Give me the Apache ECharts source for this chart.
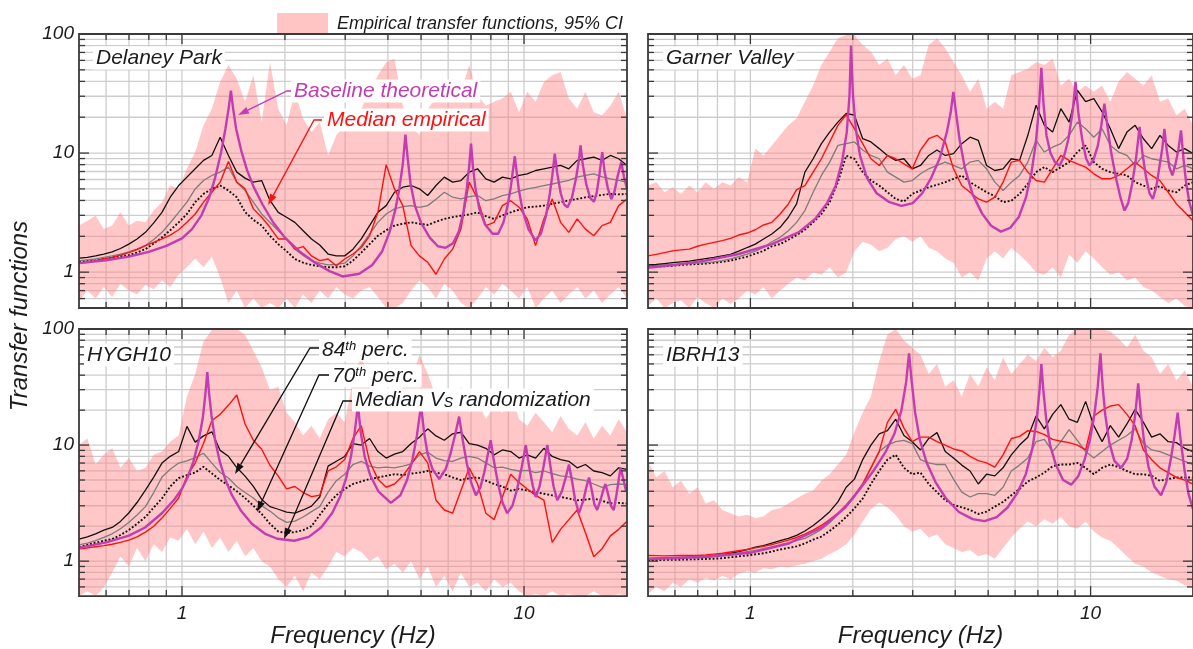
<!DOCTYPE html>
<html>
<head>
<meta charset="utf-8">
<title>Transfer functions</title>
<script src="https://cdn.jsdelivr.net/npm/echarts@6.0.0/dist/echarts.min.js"></script>
<style>
html, body { margin: 0; padding: 0; background: #fff; }
#chart { width: 1193px; height: 649px; }
</style>
</head>
<body>
<div id="chart"></div>
<script>
// Frequency grid (Hz) shared by the empirical curves and the 95% CI band
const freq = [0.5,0.529,0.559,0.591,0.625,0.661,0.699,0.739,0.782,0.827,
  0.874,0.924,0.978,1.034,1.093,1.156,1.223,1.293,1.367,1.446,
  1.529,1.617,1.71,1.808,1.912,2.022,2.138,2.261,2.391,2.528,
  2.674,2.827,2.99,3.162,3.344,3.536,3.739,3.954,4.181,4.422,
  4.676,4.945,5.229,5.529,5.847,6.183,6.539,6.914,7.312,7.732,
  8.176,8.646,9.143,9.669,10.22,10.81,11.43,12.09,12.79,13.52,
  14.3,15.12,15.99,16.91,17.88,18.91,20];

// ---- Delaney Park ----
const dpCiUpper = [2.46,2.7,2.98,2.30,2.46,3.18,2.46,2.7,2.62,3.29,
  3.87,5.34,5.01,7.38,10.2,17.1,23.6,39.6,54.8,42,
  27,45,18.2,58,23.6,17.1,32.7,19.5,15,18.2,
  9.55,14.1,17.1,17.1,23.6,32.7,45,58,62,25,
  17.1,14.1,23.6,28.7,32.7,42,32.7,54.8,30.6,25,
  27,28.7,32.7,22,32.7,27,39.6,45,48,28.7,
  23.6,32.7,22,20.8,25,32.7,19.5];
const dpCiLower = [0.57,0.7,0.6,0.75,0.62,0.8,0.7,0.65,0.78,0.72,
  0.85,0.75,0.95,1.1,1.3,1.1,1.35,0.9,0.55,0.7,
  0.5,0.6,0.5,0.55,0.5,0.6,0.5,0.65,0.55,0.7,
  0.6,0.75,0.65,0.6,0.7,0.75,0.62,0.5,0.5,0.55,
  0.7,0.85,0.75,0.6,0.8,0.7,0.55,0.5,0.6,0.75,
  0.65,0.8,0.7,0.6,0.75,0.5,0.6,0.7,0.55,0.65,
  0.75,0.6,0.7,0.55,0.65,0.75,0.6];
const dp84 = [1.31,1.33,1.37,1.42,1.48,1.58,1.72,1.90,2.16,2.59,
  3.18,4.26,5.34,6.28,7.38,8.68,9.55,13.6,9.55,6.92,
  6.16,5.70,5.88,4.0,3.18,2.89,2.62,2.23,1.90,1.69,
  1.42,1.37,1.37,1.56,1.90,2.46,3.18,3.62,4.69,5.17,
  5.34,5.01,4.40,5.34,6.28,5.70,5.88,6.92,7.38,6.08,
  5.70,6.28,6.08,6.49,6.70,7.14,7.38,7.62,7.87,7.38,
  8.68,8.96,9.26,8.68,9.55,8.96,7.87];
const dp70 = [1.25,1.27,1.29,1.33,1.37,1.42,1.48,1.56,1.67,1.88,
  2.16,2.6,3.18,3.87,5.0,5.88,6.49,6.92,7.62,5.70,
  4.85,3.87,3.08,2.62,2.23,1.90,1.56,1.38,1.25,1.19,
  1.15,1.16,1.19,1.37,1.67,2.09,2.62,3.08,3.40,3.55,
  3.62,3.5,3.62,4.1,4.69,4.26,4.12,4.3,4.40,3.98,
  4.12,4.4,4.54,4.8,5.01,5.15,5.34,5.5,5.70,5.9,
  6.28,6.5,6.70,6.3,6.08,5.9,5.70];
const dpMedVs = [1.22,1.24,1.26,1.29,1.33,1.36,1.39,1.46,1.56,1.74,
  1.96,2.25,2.62,3.08,3.87,4.54,5.0,5.34,4.85,4.26,
  3.2,2.75,2.46,2.02,1.72,1.5,1.29,1.2,1.15,1.12,
  1.10,1.1,1.12,1.25,1.46,1.72,2.02,2.25,2.46,2.55,
  2.62,2.55,2.49,2.65,2.80,2.9,2.98,3.05,3.18,2.95,
  2.80,3.0,3.18,3.35,3.51,3.55,3.62,3.75,3.87,4.0,
  4.12,4.25,4.35,4.45,4.54,4.5,4.54];
const dpMedEmp = [1.19,1.21,1.25,1.29,1.33,1.39,1.46,1.55,1.67,1.78,
  1.90,2.05,2.27,2.62,3.08,3.87,4.69,5.70,8.5,5.70,
  5.01,3.40,2.89,2.38,1.90,1.90,1.56,1.64,1.37,1.25,
  1.29,1.13,1.29,1.42,1.61,2.02,3.18,8.0,5.0,3.62,
  1.67,1.37,1.21,0.96,1.29,1.56,2.30,5.70,4.12,2.46,
  2.62,3.62,3.98,3.51,2.80,1.67,2.80,4.12,2.62,2.16,
  2.80,2.30,2.02,2.46,2.62,3.62,4.12];
const dpTheory = [[0.5,1.19],[0.6,1.26],[0.7,1.35],[0.8,1.48],[0.9,1.66],[1.0,1.92],[1.07,2.3],[1.14,3.0],
  [1.2,4.2],[1.25,6.2],[1.3,10],[1.34,16],[1.37,24],[1.39,33.5],[1.41,24],[1.44,16],[1.49,10.5],
  [1.55,7.2],[1.62,5.2],[1.72,3.7],[1.85,2.6],[2.0,1.95],[2.2,1.5],[2.45,1.2],[2.7,1.02],[2.95,0.92],
  [3.3,0.97],[3.6,1.15],[3.85,1.5],[4.05,2.2],[4.2,3.3],[4.32,5],[4.42,8],[4.5,14.3],[4.57,9],
  [4.66,5.5],[4.8,3.6],[5.0,2.6],[5.3,1.95],[5.6,1.65],[5.9,1.6],[6.2,1.75],[6.45,2.2],[6.65,3.2],
  [6.8,5],[6.92,8],[7.0,12],[7.08,8],[7.2,5.2],[7.4,3.4],[7.7,2.5],[8.1,2.1],[8.4,2.1],[8.7,2.6],
  [8.95,3.6],[9.15,5.2],[9.3,7.5],[9.4,9.4],[9.5,7.2],[9.65,5],[9.9,3.3],[10.3,2.3],[10.8,1.85],
  [11.2,2.1],[11.6,3.0],[11.9,4.6],[12.1,6.5],[12.3,9.9],[12.5,6.8],[12.8,4.6],[13.1,3.7],[13.4,3.5],
  [13.8,4.2],[14.2,6.2],[14.45,8.5],[14.63,11.6],[14.85,8],[15.2,5.5],[15.6,4.2],[16.0,3.9],[16.3,4.6],
  [16.6,6.5],[16.93,10.2],[17.2,7],[17.6,5],[18.0,4.1],[18.4,4.8],[18.8,6.5],[19.25,8.4],[19.6,6.3],[20,5.0]];

// ---- Garner Valley ----
const gvCiUpper = [5.34,5.7,4.69,5.17,4.54,5.34,4.69,5.7,5.01,5.7,
  5.34,6.28,5.7,10.9,9.55,11.6,14.1,17.1,19.5,27,
  37,54.8,71,92,98,98,81,71,54.8,62,
  45,55,42,45,81,92,76,58,45,32.7,
  42,23.6,27,23.6,45,48,51,58,54.8,62,
  37,42,32.7,37,32.7,37,27,40,48,42,
  37,45,27,28.7,20.8,23.6,17.1];
const gvCiLower = [0.52,0.6,0.5,0.55,0.58,0.5,0.62,0.55,0.5,0.6,
  0.54,0.6,0.7,0.65,0.75,0.6,0.7,0.8,0.9,0.85,
  1.0,0.95,1.1,0.9,1.0,1.5,1.8,1.7,1.5,1.6,
  1.9,2.0,1.8,2.0,1.6,1.5,1.3,1.2,0.9,1.0,
  0.85,1.3,1.5,1.3,1.6,1.4,1.2,1.0,0.95,1.1,
  0.9,1.4,1.2,1.5,1.3,1.1,0.95,1.0,0.85,0.9,
  0.75,0.7,0.62,0.55,0.6,0.52,0.5];
const gv84 = [1.15,1.16,1.18,1.20,1.22,1.24,1.27,1.30,1.33,1.37,
  1.41,1.50,1.61,1.72,1.90,2.09,2.38,2.89,3.74,6.92,
  8.96,12.0,15,18.2,21.5,20.8,13.2,12.4,10.9,9.55,
  8.68,8.96,7.38,7.87,9.55,10.6,9.55,9.9,12.0,13.6,
  12.8,7.87,7.14,7.38,8.96,8.68,14.1,25.2,17.1,15,
  23.6,18.2,33.7,27,28.7,22.2,16,10.9,15,17.1,
  13.2,10.9,14.1,11.6,10.2,10.9,9.9];
const gv70 = [1.13,1.14,1.15,1.16,1.17,1.18,1.19,1.20,1.22,1.25,
  1.29,1.35,1.42,1.5,1.61,1.80,1.96,2.23,2.62,3.29,
  4.69,6.49,8.4,11.6,12.0,12.4,10.6,9.55,8.96,6.92,
  6.28,5.70,5.88,6.7,7.38,7.87,8.4,7.87,7.38,8.4,
  8.68,7.38,5.70,4.85,5.70,6.49,8.4,12.8,10.2,11.2,
  12.0,14.1,18.2,16,13.6,16,11.6,10.2,9.55,7.87,
  9.55,8.96,8.68,8.4,7.38,7.87,7.38];
const gvMedVs = [1.11,1.115,1.12,1.13,1.15,1.16,1.17,1.18,1.20,1.22,
  1.25,1.30,1.35,1.43,1.51,1.65,1.72,1.87,2.05,2.27,
  2.62,3.08,3.87,5.70,9.5,8.96,6.92,5.88,5.34,4.69,
  4.12,3.92,4.54,4.85,5.17,5.41,5.70,6.08,6.49,5.70,
  5.17,4.69,4.35,3.87,3.98,4.54,5.52,6.92,7.62,6.92,
  7.62,8.4,10.2,11.6,8.4,7.38,6.92,6.7,6.49,5.70,
  5.34,5.01,5.27,4.85,4.69,5.34,5.70];
const gvMedEmp = [1.37,1.41,1.46,1.51,1.54,1.56,1.65,1.72,1.78,1.84,
  1.92,2.05,2.13,2.27,2.49,2.62,3.08,3.74,4.94,5.34,
  6.92,8.96,12.4,17.1,21.0,16,12.0,8.96,7.87,9.55,
  8.96,8.12,7.38,10.6,13.2,14.1,12.4,7.38,5.34,4.69,
  4.12,3.87,4.26,5.70,8.4,8.68,6.92,5.88,5.70,7.38,
  9.55,8.68,8.12,7.62,6.70,6.08,6.08,6.49,7.38,8.4,
  7.38,6.49,5.88,4.69,3.74,3.18,2.7];
const gvTheory = [[0.5,1.09],[0.6,1.15],[0.738,1.25],[0.924,1.42],[1.157,1.72],[1.385,2.16],[1.55,2.8],
  [1.68,3.8],[1.78,5.3],[1.86,8.5],[1.92,15],[1.955,30],[1.976,80],[2.0,32],[2.04,16],[2.1,9.5],
  [2.2,6.2],[2.35,4.6],[2.55,3.9],[2.78,3.6],[3.0,3.8],[3.2,4.6],[3.4,6.2],[3.6,9],[3.78,15],[3.88,22],
  [3.95,32.7],[4.02,22],[4.12,13],[4.27,7.5],[4.5,4.5],[4.8,3.1],[5.1,2.45],[5.45,2.19],[5.8,2.35],
  [6.15,2.9],[6.45,4.2],[6.7,6.8],[6.9,12],[7.05,24],[7.166,52],[7.27,26],[7.42,14],[7.62,10],[7.85,8.4],
  [8.11,7.87],[8.35,9.3],[8.6,13],[8.85,22],[9.03,39.6],[9.2,22],[9.45,13],[9.7,9],[9.93,7.87],[10.2,8.8],
  [10.5,11.5],[10.75,17],[10.98,26],[11.2,17],[11.5,10],[11.9,6],[12.25,4.2],[12.58,3.29],[12.9,3.8],
  [13.25,5.5],[13.6,9],[13.93,16.6],[14.2,10],[14.55,6.3],[14.9,4.6],[15.24,4.12],[15.6,5.2],[15.95,7.8],
  [16.25,11],[16.48,16],[16.75,10.5],[17.05,7.6],[17.4,6.49],[17.75,8],[18.1,10.5],[18.44,15.5],[18.75,9],
  [19.1,5.6],[19.5,3.9],[20,3.0]];

// ---- HYGH10 ----
const hyCiUpper = [10,11.4,6.8,8.24,9.38,6.37,7.73,5.98,6.37,8.24,
  8.79,10.7,12.1,26.2,41,78,98,100,100,100,
  89,65,46.8,29.8,31.8,19.0,15.7,12.1,14.7,11.4,
  16.7,19.0,15.7,36.2,60,31.8,24.6,26.2,21.7,31.8,
  36.2,60,41,26.2,29.8,21.7,31.8,19,24.6,16.7,
  21.7,19,29.8,16.7,14.7,19,15.7,12.9,17.8,13.8,
  12.1,15.7,11.4,14.7,12.1,16.7,12.9];
const hyCiLower = [0.5,0.55,0.5,0.6,0.8,1.1,0.9,1.3,1.0,1.4,
  1.2,1.6,1.5,1.9,1.4,1.8,1.3,1.6,1.2,1.5,
  1.1,1.3,1.0,0.9,0.7,0.6,0.75,0.55,0.8,0.7,
  0.9,1.2,1.1,1.3,1.2,1.0,1.1,0.85,0.95,0.8,
  1.0,0.7,0.9,0.6,0.75,0.55,0.8,0.6,0.65,0.55,
  0.7,0.6,0.65,0.55,0.5,0.52,0.5,0.55,0.5,0.52,
  0.5,0.5,0.55,0.5,0.5,0.52,0.5];
const hy84 = [1.55,1.62,1.72,1.85,1.95,2.2,2.6,3.2,4.1,5.3,
  7.0,8.0,8.8,14.5,10.6,12.0,13.0,9.0,8.0,6.4,
  5.4,4.4,3.4,2.95,2.8,2.64,2.59,2.76,2.98,3.57,
  6.58,7.25,7.98,10.3,10.0,11.4,8.79,7.73,8.35,8.79,
  10.3,11.7,13.8,12.0,11.0,12.5,12.9,10.3,10.0,9.38,
  8.24,9.08,8.79,7.73,8.24,7.73,9.38,7.98,7.49,7.25,
  6.37,6.80,5.98,5.79,5.43,6.37,6.17];
const hy70 = [1.38,1.43,1.5,1.6,1.72,1.9,2.15,2.5,2.95,3.9,
  5.3,6.2,7.0,7.3,7.8,8.5,7.0,5.8,5.2,4.4,
  3.9,3.5,3.0,2.7,2.36,2.16,2.21,2.40,2.67,2.95,
  3.93,4.93,5.61,6.80,7.25,6.58,6.37,6.45,6.37,6.58,
  6.89,8.24,8.68,7.73,7.36,7.25,7.73,7.98,7.73,7.02,
  6.37,6.45,6.17,5.98,6.06,5.79,5.98,5.68,5.43,5.33,
  5.09,4.93,4.62,4.33,4.56,4.62,4.56];
const hyMedVs = [1.32,1.38,1.44,1.5,1.55,1.68,1.85,2.1,2.4,2.9,
  3.47,4.4,5.2,5.5,5.8,6.5,5.7,5.0,4.5,4.0,
  3.5,3.0,2.55,2.1,1.8,1.75,1.78,1.85,2.0,2.5,
  3.1,3.7,4.19,4.62,4.86,5.09,5.26,5.43,5.61,5.53,
  5.68,5.79,5.98,5.79,5.61,5.26,5.0,5.18,5.26,4.93,
  4.62,4.39,4.06,4.19,4.06,3.93,3.81,3.69,3.57,3.46,
  3.35,3.39,3.46,3.31,3.14,3.18,3.14];
const hyMedEmp = [1.28,1.3,1.33,1.36,1.4,1.45,1.52,1.62,1.78,2.0,
  2.35,2.85,3.5,5.4,7.0,10.3,16.3,18.4,22,27,
  15.2,11,9.2,6.7,5.4,4.2,4.4,3.9,3.6,3.7,
  6.0,6.5,7.5,11.4,14.7,7.25,5.09,4.33,4.62,5.43,
  6.80,8.79,7.02,3.35,2.76,2.59,4.06,6.37,4.62,2.59,
  2.28,3.57,5.61,4.77,4.19,3.69,3.35,1.45,1.88,2.28,
  2.76,1.76,1.09,1.28,1.65,1.88,2.21];
const hyTheory = [[0.5,1.3],[0.6,1.45],[0.7,1.66],[0.78,1.95],[0.875,2.6],[0.95,3.4],[1.0,4.2],[1.04,5.3],
  [1.08,7.2],[1.12,11],[1.15,17],[1.17,27],[1.186,42.5],[1.2,28],[1.22,18],[1.25,11],[1.29,7.2],[1.34,5.0],
  [1.4,3.7],[1.49,2.7],[1.6,2.1],[1.75,1.72],[1.9,1.56],[2.13,1.5],[2.35,1.62],[2.55,1.95],[2.75,2.6],
  [2.9,3.6],[3.02,5.2],[3.12,8],[3.2,13],[3.27,22],[3.33,13],[3.42,8],[3.55,5.5],[3.75,4.0],[4.08,3.18],
  [4.35,3.7],[4.55,5.0],[4.72,7.5],[4.86,12],[5.0,22],[5.1,13],[5.22,8.5],[5.4,6.2],[5.65,5.1],[5.9,6.2],
  [6.1,8.5],[6.3,12.5],[6.46,17.6],[6.62,11],[6.8,7],[7.0,4.8],[7.23,3.69],[7.45,4.3],[7.65,5.8],[7.82,8],
  [7.99,11.0],[8.15,7.5],[8.4,4.6],[8.65,3.2],[8.93,2.59],[9.25,3.0],[9.55,4.2],[9.85,6.5],[10.12,10],
  [10.35,6.5],[10.6,4.5],[10.82,3.57],[11.1,4.4],[11.4,6.5],[11.7,10],[11.95,6.5],[12.2,4.4],[12.51,3.35],
  [12.9,4.0],[13.25,5.3],[13.53,6.8],[13.8,5],[14.1,3.4],[14.47,2.59],[14.9,3.3],[15.2,4.3],[15.49,5.26],
  [15.8,4],[16.05,3.1],[16.36,2.76],[16.8,3.5],[17.05,4.1],[17.3,4.62],[17.6,3.8],[17.95,3.0],[18.3,2.76],
  [18.65,3.8],[18.95,5.2],[19.15,6.37],[19.45,5.3],[19.85,4.06],[20,4.3]];

// ---- IBRH13 ----
const ibCiUpper = [7.25,5.26,5.98,4.33,4.93,3.81,4.33,3.14,3.35,2.76,
  2.59,2.43,2.51,2.35,2.43,2.76,2.85,3.14,3.46,3.81,
  4.06,4.93,5.61,6.80,8.24,12.9,19.0,26.2,53,89,
  100,80,69,60,41,50,31.8,36.2,26.2,41,
  31.8,46.8,36.2,57,41,50,60,53,69,57,
  65,89,100,100,100,100,95,83,69,89,
  65,57,41,50,36.2,43.8,31.8];
const ibCiLower = [0.52,0.6,0.55,0.65,0.6,0.7,0.65,0.72,0.68,0.75,
  0.7,0.78,0.82,0.8,0.87,0.85,0.9,0.88,0.92,0.95,
  1.0,1.05,1.15,1.25,1.4,1.7,2.2,2.8,3.2,2.9,
  2.5,2.0,1.8,1.9,1.6,1.7,1.4,1.3,1.2,1.25,
  1.1,1.15,1.05,1.3,1.6,1.9,2.2,2.0,2.3,2.1,
  2.4,2.0,1.9,2.2,1.8,1.6,1.5,1.3,1.1,0.95,
  0.9,0.8,0.75,0.7,0.68,0.62,0.6];
const ib84 = [1.05,1.055,1.06,1.065,1.07,1.08,1.09,1.10,1.12,1.14,
  1.17,1.21,1.26,1.32,1.36,1.43,1.50,1.57,1.67,1.82,
  2.03,2.31,2.67,3.24,4.33,5.09,7.49,10.0,12.5,13.3,
  16.7,12.1,10.7,9.08,11.4,12.8,8.79,7.73,6.72,5.98,
  4.62,5.61,5.43,6.37,8.24,10.0,11.7,17.8,13.8,18.4,
  22.3,16.7,15.7,23.8,14.7,10.7,14.7,11.7,15.2,20.3,
  15.7,11.7,12.5,10.7,10.5,9.38,8.79];
const ib70 = [1.04,1.042,1.045,1.047,1.05,1.06,1.07,1.08,1.09,1.11,
  1.13,1.17,1.21,1.24,1.28,1.33,1.38,1.44,1.50,1.57,
  1.71,1.88,2.14,2.55,2.95,3.57,4.62,6.37,8.79,10.0,
  10.7,11.0,10.3,7.49,7.02,6.80,6.80,5.09,3.93,3.57,
  3.81,3.81,3.69,4.33,5.98,6.72,7.73,10.7,11.2,8.79,
  10.7,13.6,11.0,8.79,7.73,8.79,10.0,11.0,12.1,13.8,
  10.3,9.08,8.79,8.24,7.73,7.25,6.80];
const ibMedVs = [1.02,1.022,1.025,1.027,1.03,1.035,1.04,1.045,1.05,1.06,
  1.08,1.10,1.12,1.145,1.17,1.21,1.26,1.30,1.34,1.42,
  1.53,1.63,1.82,2.07,2.40,2.85,3.46,4.62,5.98,7.49,
  8.24,6.37,5.61,5.79,4.62,3.93,3.35,3.05,2.91,2.76,
  2.55,2.67,2.95,3.24,3.69,4.19,4.86,5.26,5.79,6.58,
  6.80,6.80,7.02,6.37,5.61,6.37,6.80,6.45,5.98,5.61,
  5.61,5.43,4.93,5.09,5.26,5.26,5.26];
const ibMedEmp = [1.12,1.115,1.11,1.115,1.12,1.12,1.12,1.13,1.15,1.17,
  1.20,1.23,1.26,1.30,1.34,1.39,1.45,1.52,1.60,1.71,
  1.85,2.03,2.28,2.59,3.05,3.69,4.62,6.37,8.79,15.7,
  20.3,14.0,10.7,11.7,11.7,10.7,10.0,9.26,8.9,7.98,
  7.34,7.02,6.45,8.24,11.4,11.9,13.3,13.1,12.3,11.2,
  10.8,10.5,10.0,9.08,17.8,20.0,21.7,22.3,18.4,14.7,
  9.08,7.49,6.37,5.79,5.26,4.99,4.62];
const ibTheory = [[0.5,1.05],[0.738,1.09],[1.0,1.18],[1.295,1.42],[1.622,1.95],[1.9,2.9],[2.1,4.2],[2.3,6.0],
  [2.5,8.8],[2.65,12.5],[2.78,20],[2.87,35],[2.926,61.6],[2.98,35],[3.05,19],[3.15,11],[3.3,7],[3.5,4.8],
  [3.75,3.5],[4.1,2.65],[4.5,2.3],[4.88,2.21],[5.3,2.4],[5.7,2.9],[6.1,3.9],[6.45,5.6],[6.75,9.5],[6.95,17],
  [7.08,30],[7.166,49.9],[7.26,30],[7.4,17],[7.6,10],[7.9,6.8],[8.3,5.0],[8.77,4.56],[9.2,5.4],[9.6,7.5],
  [9.95,11],[10.25,18],[10.5,32],[10.69,61.6],[10.85,32],[11.05,18],[11.35,10.5],[11.75,7.3],[12.3,6.37],
  [12.8,7.6],[13.2,11],[13.55,19],[13.8,34],[14.05,19],[14.35,11],[14.8,6.5],[15.4,4.4],[16.11,3.69],
  [16.7,4.8],[17.2,7.5],[17.65,12],[18.03,19.0],[18.4,11],[18.9,6],[19.4,3.8],[20,2.8]];

// Axis ranges and tick positions (shared by every panel)
const X_RANGE = [0.5, 20];
const Y_RANGE = [0.5, 100];
const xMinorTicks = [0.6, 0.7, 0.8, 0.9, 2, 3, 4, 5, 6, 7, 8, 9];
const xMajorTicks = [1, 10];
const yMinorTicks = [0.6, 0.7, 0.8, 0.9, 2, 3, 4, 5, 6, 7, 8, 9, 20, 30, 40, 50, 60, 70, 80, 90];
const yMajorTicks = [1, 10];

const panels = [
  { title: 'Delaney Park', up: dpCiUpper, lo: dpCiLower, p84: dp84, p70: dp70, medVs: dpMedVs, emp: dpMedEmp, theory: dpTheory },
  { title: 'Garner Valley', up: gvCiUpper, lo: gvCiLower, p84: gv84, p70: gv70, medVs: gvMedVs, emp: gvMedEmp, theory: gvTheory },
  { title: 'HYGH10', up: hyCiUpper, lo: hyCiLower, p84: hy84, p70: hy70, medVs: hyMedVs, emp: hyMedEmp, theory: hyTheory },
  { title: 'IBRH13', up: ibCiUpper, lo: ibCiLower, p84: ib84, p70: ib70, medVs: ibMedVs, emp: ibMedEmp, theory: ibTheory }
];

const FONT = '"Liberation Sans", Arial, Helvetica, sans-serif';
const TEXT = '#1c1c1c';
const GRID = '#cdcdcd';
const FRAME = '#3a3a3a';
const BAND = 'rgba(255, 130, 130, 0.45)';
const BAND_SOLID = '#ffc4c4';
const MAGENTA = '#c23cb2';
const RED = '#ff1010';
const GRAY = '#7c7c7c';
const BLACK = '#111111';
const CI_NAME = 'Empirical transfer functions, 95% CI';

const gridBoxes = [
  { left: 79, top: 34, width: 548, height: 274 },
  { left: 648, top: 34, width: 546, height: 274 },
  { left: 79, top: 329, width: 548, height: 275 },
  { left: 648, top: 329, width: 546, height: 275 }
];

const isDecade = v => { const l = Math.log10(v); return v >= 1 && Math.abs(l - Math.round(l)) < 1e-6; };
const decadeLabel = v => isDecade(v) ? String(Math.round(v)) : '';

// light grid lines at every minor and major tick
function renderGridLines(params, api) {
  const lo = api.coord([X_RANGE[0], Y_RANGE[0]]);
  const hi = api.coord([X_RANGE[1], Y_RANGE[1]]);
  const children = [];
  xMinorTicks.concat(xMajorTicks).forEach(v => {
    const x = api.coord([v, Y_RANGE[0]])[0];
    children.push({ type: 'line', shape: { x1: x, y1: lo[1], x2: x, y2: hi[1] }, style: { stroke: GRID, lineWidth: 1.3 } });
  });
  yMinorTicks.concat(yMajorTicks).forEach(v => {
    const y = api.coord([X_RANGE[0], v])[1];
    children.push({ type: 'line', shape: { x1: lo[0], y1: y, x2: hi[0], y2: y }, style: { stroke: GRID, lineWidth: 1.3 } });
  });
  return { type: 'group', children };
}

// box frame with inward ticks on all four sides
function renderFrame(params, api) {
  const lo = api.coord([X_RANGE[0], Y_RANGE[0]]);
  const hi = api.coord([X_RANGE[1], Y_RANGE[1]]);
  const L = lo[0], B = lo[1], R = hi[0], T = hi[1];
  const children = [];
  const seg = (x1, y1, x2, y2) => children.push({ type: 'line', shape: { x1, y1, x2, y2 }, style: { stroke: FRAME, lineWidth: 1.3 } });
  const xTick = (v, len) => { const x = api.coord([v, Y_RANGE[0]])[0]; seg(x, B, x, B - len); seg(x, T, x, T + len); };
  const yTick = (v, len) => { const y = api.coord([X_RANGE[0], v])[1]; seg(L, y, L + len, y); seg(R, y, R - len, y); };
  xMinorTicks.forEach(v => xTick(v, 6));
  xMajorTicks.forEach(v => xTick(v, 10));
  yMinorTicks.forEach(v => yTick(v, 6));
  yMajorTicks.forEach(v => yTick(v, 10));
  children.push({ type: 'rect', shape: { x: L, y: T, width: R - L, height: B - T }, style: { fill: 'transparent', stroke: FRAME, lineWidth: 1.8 } });
  return { type: 'group', children };
}

// 95% CI band: polygon along the upper bound and back along the lower bound
const makeBandRenderer = (up, lo) => (params, api) => {
  const pts = [];
  for (let i = 0; i < freq.length; i++) pts.push(api.coord([freq[i], up[i]]));
  for (let i = freq.length - 1; i >= 0; i--) pts.push(api.coord([freq[i], lo[i]]));
  return { type: 'polygon', shape: { points: pts }, style: { fill: BAND } };
};

const pairs = arr => freq.map((f, i) => [f, arr[i]]);

const xAxes = gridBoxes.map((g, i) => ({
  type: 'log', logBase: 10, gridIndex: i, min: X_RANGE[0], max: X_RANGE[1],
  axisLine: { show: false }, axisTick: { show: false }, splitLine: { show: false },
  axisLabel: { show: i >= 2, formatter: decadeLabel, margin: 8, color: TEXT, fontSize: 19, fontStyle: 'italic', fontFamily: FONT, showMinLabel: false, showMaxLabel: false },
  name: i >= 2 ? 'Frequency (Hz)' : '', nameLocation: 'middle', nameGap: 16,
  nameTextStyle: { color: TEXT, fontSize: 24, fontStyle: 'italic', fontFamily: FONT }
}));
const yAxes = gridBoxes.map((g, i) => ({
  type: 'log', logBase: 10, gridIndex: i, min: Y_RANGE[0], max: Y_RANGE[1],
  axisLine: { show: false }, axisTick: { show: false }, splitLine: { show: false },
  axisLabel: { show: i % 2 === 0, formatter: decadeLabel, margin: 5, color: TEXT, fontSize: 19, fontStyle: 'italic', fontFamily: FONT, showMinLabel: false }
}));

const series = [];
panels.forEach((p, i) => {
  const ax = { xAxisIndex: i, yAxisIndex: i, silent: true };
  series.push(Object.assign({ type: 'custom', z: 1, data: [[1, 1]], renderItem: renderGridLines }, ax));
  series.push(Object.assign({ type: 'custom', name: CI_NAME, z: 2, data: [[1, 1]], itemStyle: { color: BAND_SOLID }, renderItem: makeBandRenderer(p.up, p.lo) }, ax));
  const line = (data, color, width, type, z) => Object.assign({
    type: 'line', data, z, symbol: 'none', showSymbol: false, clip: true,
    lineStyle: { color, width, type }
  }, ax);
  series.push(line(pairs(p.medVs), BLACK, 1.9, [1.9, 1.9], 3));
  series.push(line(pairs(p.p70), GRAY, 1.3, 'solid', 4));
  series.push(line(pairs(p.p84), BLACK, 1.3, 'solid', 5));
  series.push(line(pairs(p.emp), RED, 1.4, 'solid', 6));
  series.push(line(p.theory, MAGENTA, 2.4, 'solid', 7));
  series.push(Object.assign({ type: 'custom', z: 20, data: [[1, 1]], renderItem: renderFrame }, ax));
});

// annotation helpers (screen placement of labels and pointer arrows)
function arrow(points, color) {
  const n = points.length;
  const [x2, y2] = points[n - 1];
  const [x1, y1] = points[n - 2];
  const a = Math.atan2(y2 - y1, x2 - x1);
  const len = 11, half = 3.6;
  const bx = x2 - len * Math.cos(a), by = y2 - len * Math.sin(a);
  const head = [[x2, y2], [bx + half * Math.sin(a), by - half * Math.cos(a)], [bx - half * Math.sin(a), by + half * Math.cos(a)]];
  const shaft = points.slice(0, n - 1).concat([[bx, by]]);
  return [
    { type: 'polyline', z: 100, shape: { points: shaft }, style: { stroke: color, lineWidth: 1.3, fill: null } },
    { type: 'polygon', z: 100, shape: { points: head }, style: { fill: color } }
  ];
}
function label(text, x, y, color, rich, size) {
  return {
    type: 'text', z: 101, x, y,
    style: {
      text, fill: color, fontSize: size || 21, fontStyle: 'italic', fontFamily: FONT,
      verticalAlign: 'middle', align: 'left', backgroundColor: '#fff', padding: [1, 3, 1, 3],
      rich: rich || {}
    }
  };
}
const supRich = { sup: { fontSize: 13, verticalAlign: 'top', fontStyle: 'italic', fontFamily: FONT, fill: BLACK } };
const subRich = { sub: { fontSize: 14, verticalAlign: 'bottom', fontStyle: 'italic', fontFamily: FONT, fill: BLACK } };

const graphics = [
  label('Delaney Park', 93, 58, TEXT),
  label('Garner Valley', 663, 58, TEXT),
  label('HYGH10', 84, 355, TEXT),
  label('IBRH13', 663, 355, TEXT),
  ...arrow([[295, 91], [287, 91], [238, 115]], MAGENTA),
  ...arrow([[322, 120], [314, 120], [268, 205]], RED),
  label('Baseline theoretical', 291, 91, MAGENTA),
  label('Median empirical', 324, 120, RED),
  ...arrow([[322, 348], [310, 348], [235, 474]], BLACK),
  ...arrow([[332, 375], [319, 375], [257, 512]], BLACK),
  ...arrow([[354, 401], [343, 401], [284, 539]], BLACK),
  label('84{sup|th} perc.', 319, 350, TEXT, supRich),
  label('70{sup|th} perc.', 329, 376, TEXT, supRich),
  label('Median V{sub|S} randomization', 352, 400, TEXT, subRich),
  {
    type: 'text', z: 101, x: 20, y: 316, rotation: Math.PI / 2,
    style: { text: 'Transfer functions', fill: TEXT, fontSize: 24, fontStyle: 'italic', fontFamily: FONT, align: 'center', verticalAlign: 'middle' }
  }
];

const chart = echarts.init(document.getElementById('chart'), null, { renderer: 'canvas' });
chart.setOption({
  animation: false,
  backgroundColor: '#fff',
  legend: {
    data: [{ name: CI_NAME, icon: 'rect', itemStyle: { color: BAND_SOLID } }],
    left: 272, top: 8, itemWidth: 51, itemHeight: 22, selectedMode: false,
    textStyle: { color: TEXT, fontSize: 18, fontStyle: 'italic', fontFamily: FONT, padding: [0, 0, 0, 4] }
  },
  grid: gridBoxes.map(g => Object.assign({ containLabel: false }, g)),
  xAxis: xAxes,
  yAxis: yAxes,
  series,
  graphic: graphics
});
</script>
</body>
</html>
